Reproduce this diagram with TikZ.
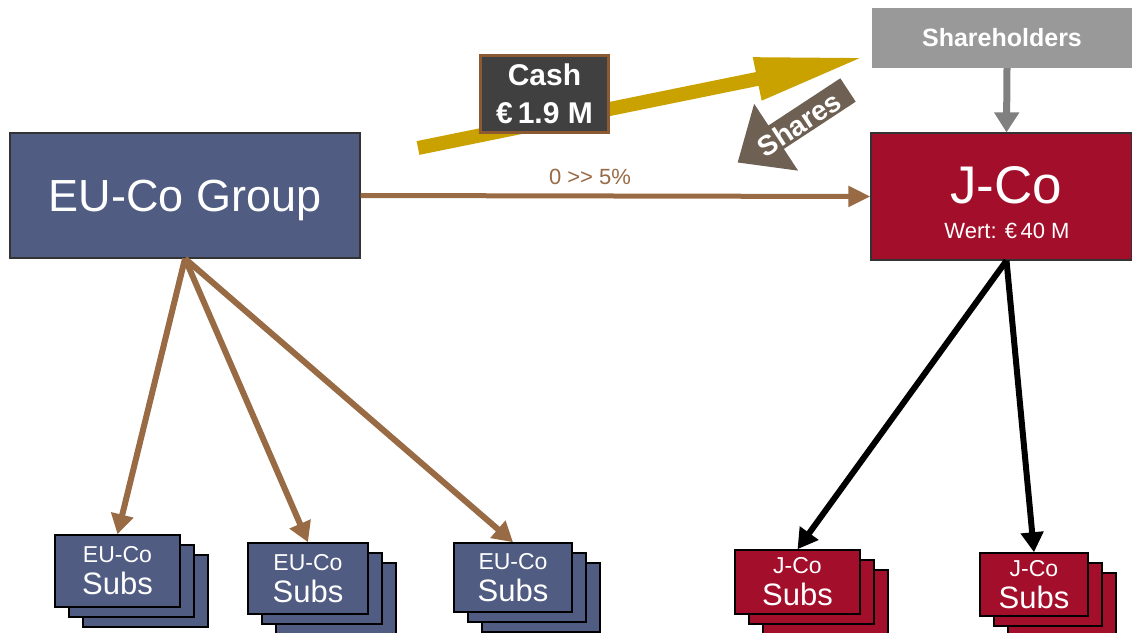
\documentclass[tikz,border=0pt]{standalone}
\usepackage{fontspec}
\setmainfont{Liberation Sans}
\usetikzlibrary{arrows.meta}
\definecolor{eublue}{HTML}{505C82}
\definecolor{jred}{HTML}{A30F2B}
\definecolor{shgray}{HTML}{999999}
\definecolor{argray}{HTML}{808080}
\definecolor{gold}{HTML}{C9A200}
\definecolor{brownar}{HTML}{986B45}
\definecolor{cashbg}{HTML}{404040}
\definecolor{cashbd}{HTML}{8B5A32}
\definecolor{sharesc}{HTML}{6E6052}
\newcommand\fs[1]{\fontsize{#1}{#1}\selectfont}
\newcommand\mysubs[7]{%
  \node[#6, minimum width=#4, minimum height=#5] (#1b2) at (#2+28,#3+20) {};
  \node[#6, minimum width=#4, minimum height=#5] (#1b1) at (#2+14,#3+10) {};
  \node[#6, minimum width=#4, minimum height=#5, align=center, text=white,
    font=\fontsize{23}{32}\selectfont] (#1) at (#2,#3)
    {#7\\{\fontsize{31}{32}\selectfont Subs}};
}
\begin{document}
\begin{tikzpicture}[x=1pt,y=-1pt,
  eusub/.style={draw=black, line width=1.5pt, fill=eublue, inner sep=0pt},
  jsub/.style={draw=black, line width=1.5pt, fill=jred, inner sep=0pt},
  brownline/.style={draw=brownar, line width=6pt, -{Triangle[length=20pt,width=22pt]}},
  blackline/.style={draw=black, line width=6pt, -{Triangle[length=20pt,width=22pt]}},
  bigbox/.style={draw=black!80, line width=1.2pt, inner sep=0pt, text=white}]
\useasboundingbox (0,0) rectangle (1132,632);

% main boxes
\node[bigbox, fill=eublue, minimum width=350pt, minimum height=125pt,
  text height=32pt, text depth=0pt] (eu) at (185,195.5)
  {\fs{45}EU-Co Group};
\node[bigbox, fill=jred, minimum width=261pt, minimum height=127pt] (jco) at (1001.5,196.5) {};
\node[text=white, inner sep=0pt, anchor=base, font=\fs{53}] (jcot) at (1006,203) {J-Co};
\node[text=white, inner sep=0pt, anchor=base, font=\fs{22}] (jcow) at (1007,238) {Wert: €\,40 M};
\node[fill=shgray, minimum width=260pt, minimum height=60pt, inner sep=0pt, text=white,
  font=\bfseries\fs{25}] (sh) at (1002,38) {Shareholders};

% cash arrow
\coordinate (cs) at (418,148);
\coordinate (ce) at (865,57);
\draw[gold, line width=14pt, -{Triangle[length=110pt,width=40pt]}] (cs) -- (ce);
\node[fill=cashbg, draw=cashbd, line width=3pt, minimum width=128pt, minimum height=77pt,
  inner sep=0pt, text=white, align=center, font=\bfseries\fontsize{30}{38}\selectfont] (cash) at (544.5,94)
  {Cash\\€\,1.9 M};

% shares arrow
\begin{scope}[shift={(848,90)}, rotate=213.3]
  \fill[sharesc] (0,-14) -- (86,-14) -- (86,-40) -- (132,0) -- (86,40) -- (86,14) -- (0,14) -- cycle;
\end{scope}
\node[text=white, font=\bfseries\fs{28}, rotate=33.3, inner sep=0pt] (shares) at (799,124) {Shares};

% shareholders to J-Co
\draw[argray, line width=7pt, -{Triangle[length=20pt,width=24pt]}] ([xshift=5pt]sh.south) -- ([xshift=5pt]jco.north);

% EU-Co to J-Co
\draw[brownar, line width=5pt, -{Triangle[length=22pt,width=20pt]}] (eu.east) -- node[pos=0.45, above=5pt, text=brownar, font=\fs{22}] (pct) {0 >{}> 5\%} (jco.west);

% subs
\mysubs{es1}{117.5}{571}{125pt}{72pt}{eusub}{EU-Co}
\mysubs{es2}{308}{578.5}{120pt}{71pt}{eusub}{EU-Co}
\mysubs{es3}{513}{577.5}{118pt}{69pt}{eusub}{EU-Co}
\mysubs{js1}{797.5}{582}{125pt}{64pt}{jsub}{J-Co}
\mysubs{js2}{1034}{584.5}{108pt}{63pt}{jsub}{J-Co}

\draw[brownline] (eu.south) -- (es1.north);
\draw[brownline] (eu.south) -- (es2.north);
\draw[brownline] (eu.south) -- (es3.north);
\draw[blackline] ([xshift=5pt]jco.south) -- (js1.north);
\draw[blackline] ([xshift=5pt]jco.south) -- (js2.north);
\end{tikzpicture}
\end{document}
